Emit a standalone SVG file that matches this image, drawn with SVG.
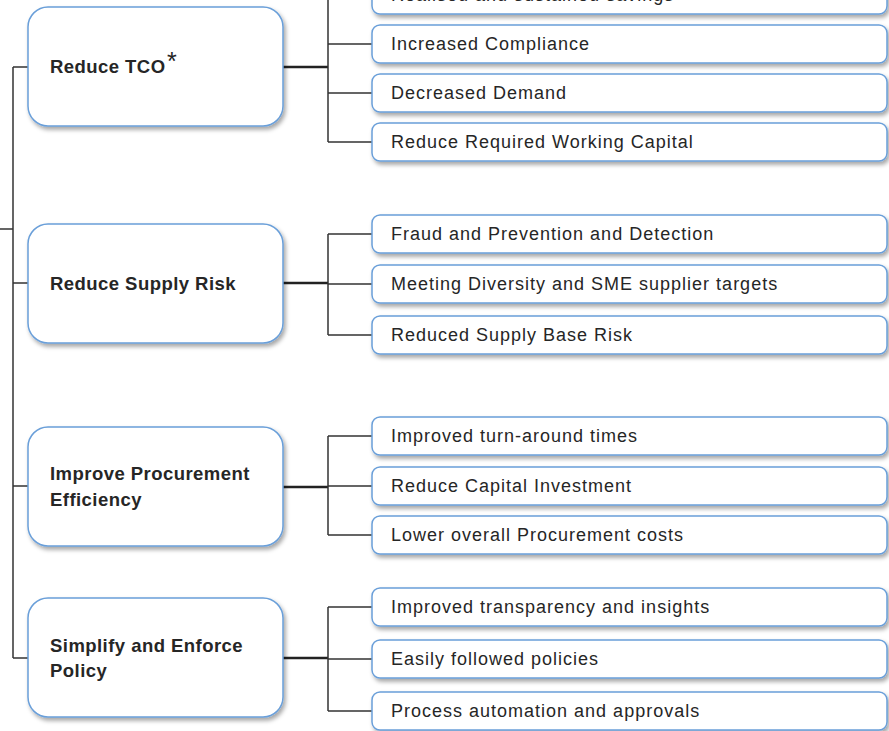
<svg xmlns="http://www.w3.org/2000/svg" width="889" height="731" viewBox="0 0 889 731">
<defs>
<filter id="sh" x="-10%" y="-20%" width="130%" height="160%">
<feDropShadow dx="2" dy="3" stdDeviation="2" flood-color="#000" flood-opacity="0.35"/>
</filter>
<style>
.main{fill:#fff;stroke:#6a9fd9;stroke-width:1.5;filter:url(#sh)}
.child{fill:#fff;stroke:#6a9fd9;stroke-width:1.5;filter:url(#sh)}
.mt{font-family:"Liberation Sans",Arial,sans-serif;font-weight:bold;font-size:18.5px;fill:#262626;letter-spacing:0.45px}
.ct{font-family:"Liberation Sans",Arial,sans-serif;font-size:18px;fill:#262626;letter-spacing:1px}
.ln{fill:none;stroke:#333;stroke-width:1.5}
.lnb{fill:none;stroke:#222;stroke-width:2.5}
</style>
</defs>
<rect width="889" height="731" fill="#fff"/>
<g id="connectors">
<path class="ln" d="M0 229H13M13 67V658M13 67H28M13 283H28M13 486H28M13 658H28"/>
<path class="lnb" d="M283 67H328M283 283H328M283 487H328M283 658H328"/>
<path class="ln" d="M328 -5V142M328 -5H372M328 44H372M328 93H372M328 142H372"/>
<path class="ln" d="M328 234V335M328 234H372M328 284H372M328 335H372"/>
<path class="ln" d="M328 436V535M328 436H372M328 486H372M328 535H372"/>
<path class="ln" d="M328 607V711M328 607H372M328 659H372M328 711H372"/>
</g>
<g id="n-tco"><rect class="main" x="28" y="7" width="255" height="119" rx="20"/><text class="mt" x="50" y="73">Reduce TCO</text><text x="167" y="70" font-family="Liberation Sans,Arial,sans-serif" font-size="25" fill="#262626">*</text></g>
<g id="n-risk"><rect class="main" x="28" y="224" width="255" height="119" rx="20"/><text class="mt" x="50" y="290">Reduce Supply Risk</text></g>
<g id="n-eff"><rect class="main" x="28" y="427" width="255" height="119" rx="20"/><text class="mt" x="50" y="480">Improve Procurement</text><text class="mt" x="50" y="506">Efficiency</text></g>
<g id="n-pol"><rect class="main" x="28" y="598" width="255" height="119" rx="20"/><text class="mt" x="50" y="652">Simplify and Enforce</text><text class="mt" x="50" y="677">Policy</text></g>
<g id="c1"><rect class="child" x="372" y="-24" width="515" height="38" rx="8"/><text class="ct" x="391" y="1">Realised and sustained savings</text></g>
<g id="c2"><rect class="child" x="372" y="25" width="515" height="38" rx="8"/><text class="ct" x="391" y="50">Increased Compliance</text></g>
<g id="c3"><rect class="child" x="372" y="74" width="515" height="38" rx="8"/><text class="ct" x="391" y="99">Decreased Demand</text></g>
<g id="c4"><rect class="child" x="372" y="123" width="515" height="38" rx="8"/><text class="ct" x="391" y="148">Reduce Required Working Capital</text></g>
<g id="c5"><rect class="child" x="372" y="215" width="515" height="38" rx="8"/><text class="ct" x="391" y="240">Fraud and Prevention and Detection</text></g>
<g id="c6"><rect class="child" x="372" y="265" width="515" height="38" rx="8"/><text class="ct" x="391" y="290">Meeting Diversity and SME supplier targets</text></g>
<g id="c7"><rect class="child" x="372" y="316" width="515" height="38" rx="8"/><text class="ct" x="391" y="341">Reduced Supply Base Risk</text></g>
<g id="c8"><rect class="child" x="372" y="417" width="515" height="38" rx="8"/><text class="ct" x="391" y="442">Improved turn-around times</text></g>
<g id="c9"><rect class="child" x="372" y="467" width="515" height="38" rx="8"/><text class="ct" x="391" y="492">Reduce Capital Investment</text></g>
<g id="c10"><rect class="child" x="372" y="516" width="515" height="38" rx="8"/><text class="ct" x="391" y="541">Lower overall Procurement costs</text></g>
<g id="c11"><rect class="child" x="372" y="588" width="515" height="38" rx="8"/><text class="ct" x="391" y="613">Improved transparency and insights</text></g>
<g id="c12"><rect class="child" x="372" y="640" width="515" height="38" rx="8"/><text class="ct" x="391" y="665">Easily followed policies</text></g>
<g id="c13"><rect class="child" x="372" y="692" width="515" height="38" rx="8"/><text class="ct" x="391" y="717">Process automation and approvals</text></g>
</svg>
